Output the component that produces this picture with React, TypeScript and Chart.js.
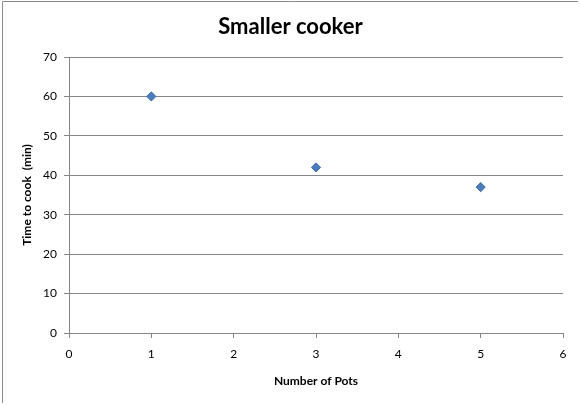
import React, { useEffect, useRef } from "react";
import { Chart, registerables } from "chart.js";

Chart.register(...registerables);

const titleText = "Smaller cooker";
const xTitle = "Number of Pots";
const yTitle = "Time to cook  (min)";
const potCounts = [1, 3, 5];
const cookTimes = [60, 42, 37];
const xRange = [0, 6];
const yRange = [0, 70];

const FONT = "Lato, 'Open Sans', sans-serif";
const GRID = "#868686";

const decorPlugin = {
  id: "decor",
  afterDraw(chart: any) {
    const ctx = chart.ctx;
    ctx.save();
    ctx.strokeStyle = "#8a8a8a";
    ctx.lineWidth = 1;
    ctx.beginPath();
    ctx.moveTo(2.5, 403);
    ctx.lineTo(2.5, 1.5);
    ctx.lineTo(578, 1.5);
    ctx.stroke();
    ctx.fillStyle = "#000";
    ctx.font = `bold 22px ${FONT}`;
    ctx.textAlign = "center";
    ctx.textBaseline = "middle";
    ctx.fillText(titleText, 290.5, 27);
    ctx.restore();
  },
};

export default function App() {
  const ref = useRef<HTMLCanvasElement | null>(null);

  useEffect(() => {
    document.body.style.margin = "0";
    const canvas = ref.current;
    if (!canvas) return;
    const chart = new Chart(canvas, {
      type: "scatter",
      data: {
        datasets: [
          {
            label: titleText,
            data: potCounts.map((x, i) => ({ x, y: cookTimes[i] })),
            pointStyle: "rectRot",
            pointRadius: 4.6,
            backgroundColor: "#4A7EBB",
            borderColor: "#3E6DA6",
            borderWidth: 1,
          },
        ],
      },
      options: {
        animation: false,
        responsive: false,
        devicePixelRatio: 1,
        layout: { padding: { left: 0, right: 18, top: 57, bottom: 0 } },
        plugins: {
          legend: { display: false },
          tooltip: { enabled: false },
          title: { display: false },
        },
        scales: {
          x: {
            type: "linear",
            min: xRange[0],
            max: xRange[1],
            ticks: {
              stepSize: 1,
              color: "#000",
              padding: 9,
              font: { family: FONT, size: 12 },
            },
            grid: {
              drawOnChartArea: false,
              drawTicks: true,
              tickLength: 5,
              color: GRID,
            },
            border: { color: GRID, width: 1 },
            title: {
              display: true,
              text: xTitle,
              color: "#000",
              font: { family: FONT, size: 12, weight: "bold" },
              padding: { top: 0, bottom: 16.8 },
            },
            afterFit(scale: any) {
              scale.height = 72;
            },
          },
          y: {
            type: "linear",
            min: yRange[0],
            max: yRange[1],
            ticks: {
              stepSize: 10,
              color: "#000",
              padding: 7,
              font: { family: FONT, size: 12 },
            },
            grid: {
              drawOnChartArea: true,
              drawTicks: true,
              tickLength: 5,
              color: GRID,
            },
            border: { color: GRID, width: 1 },
            title: {
              display: true,
              text: yTitle,
              color: "#000",
              font: { family: FONT, size: 12, weight: "bold" },
              padding: { top: 19.8, bottom: 0 },
            },
            afterFit(scale: any) {
              scale.width = 69;
            },
          },
        },
      },
      plugins: [decorPlugin],
    });
    return () => chart.destroy();
  }, []);

  return (
    <div style={{ width: 581, height: 405, background: "#fff" }}>
      <canvas ref={ref} width={581} height={405} style={{ display: "block" }} />
    </div>
  );
}
